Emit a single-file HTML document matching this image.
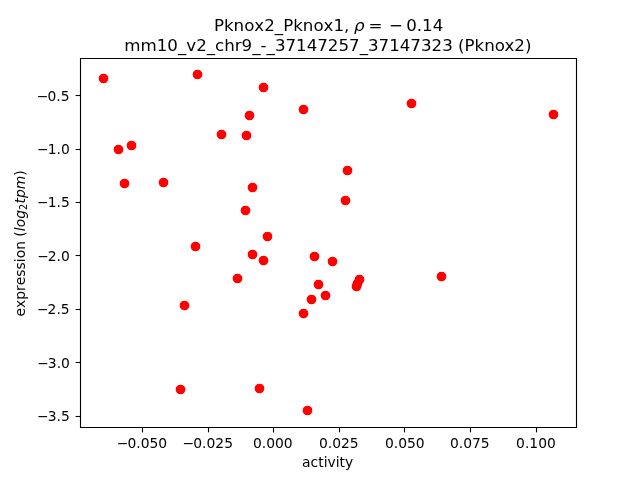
<!DOCTYPE html>
<html><head><meta charset="utf-8"><style>html,body{margin:0;padding:0;background:#fff;width:640px;height:480px;overflow:hidden}svg{display:block}</style></head>
<body>
<svg width="640" height="480" viewBox="0 0 640 480">
<rect width="640" height="480" fill="#fff"/>
<g fill="#f00" stroke="#f00" stroke-width="1.3889"><circle cx="103.50" cy="78.50" r="4.1667"/><circle cx="197.50" cy="74.50" r="4.1667"/><circle cx="221.50" cy="134.50" r="4.1667"/><circle cx="131.50" cy="145.50" r="4.1667"/><circle cx="118.50" cy="149.50" r="4.1667"/><circle cx="263.50" cy="87.50" r="4.1667"/><circle cx="303.50" cy="109.50" r="4.1667"/><circle cx="249.50" cy="115.50" r="4.1667"/><circle cx="246.50" cy="135.50" r="4.1667"/><circle cx="347.50" cy="170.50" r="4.1667"/><circle cx="411.50" cy="103.50" r="4.1667"/><circle cx="553.50" cy="114.50" r="4.1667"/><circle cx="124.50" cy="183.50" r="4.1667"/><circle cx="163.50" cy="182.50" r="4.1667"/><circle cx="195.50" cy="246.50" r="4.1667"/><circle cx="237.50" cy="278.50" r="4.1667"/><circle cx="252.50" cy="187.50" r="4.1667"/><circle cx="345.50" cy="200.50" r="4.1667"/><circle cx="245.50" cy="210.50" r="4.1667"/><circle cx="267.50" cy="236.50" r="4.1667"/><circle cx="252.50" cy="254.50" r="4.1667"/><circle cx="263.50" cy="260.50" r="4.1667"/><circle cx="314.50" cy="256.50" r="4.1667"/><circle cx="332.50" cy="261.50" r="4.1667"/><circle cx="359.50" cy="279.50" r="4.1667"/><circle cx="356.50" cy="286.50" r="4.1667"/><circle cx="318.50" cy="284.50" r="4.1667"/><circle cx="325.50" cy="295.50" r="4.1667"/><circle cx="311.50" cy="299.50" r="4.1667"/><circle cx="303.50" cy="313.50" r="4.1667"/><circle cx="441.50" cy="276.50" r="4.1667"/><circle cx="184.50" cy="305.50" r="4.1667"/><circle cx="180.50" cy="389.50" r="4.1667"/><circle cx="259.50" cy="388.50" r="4.1667"/><circle cx="307.50" cy="410.50" r="4.1667"/><circle cx="357.50" cy="283.50" r="4.1667"/></g>
<g stroke="#000" stroke-width="1.1111" fill="none"><line x1="142.5" y1="427.5" x2="142.5" y2="432.36"/><line x1="208.5" y1="427.5" x2="208.5" y2="432.36"/><line x1="273.5" y1="427.5" x2="273.5" y2="432.36"/><line x1="339.5" y1="427.5" x2="339.5" y2="432.36"/><line x1="404.5" y1="427.5" x2="404.5" y2="432.36"/><line x1="470.5" y1="427.5" x2="470.5" y2="432.36"/><line x1="536.5" y1="427.5" x2="536.5" y2="432.36"/><line x1="75.64" y1="95.5" x2="80.5" y2="95.5"/><line x1="75.64" y1="149.5" x2="80.5" y2="149.5"/><line x1="75.64" y1="202.5" x2="80.5" y2="202.5"/><line x1="75.64" y1="255.5" x2="80.5" y2="255.5"/><line x1="75.64" y1="309.5" x2="80.5" y2="309.5"/><line x1="75.64" y1="362.5" x2="80.5" y2="362.5"/><line x1="75.64" y1="416.5" x2="80.5" y2="416.5"/></g>
<path d="M80.5 427.5 V58.5 M576.5 427.5 V58.5 M80.5 427.5 H576.5 M80.5 58.5 H576.5" stroke="#000" stroke-width="1.1111" stroke-linecap="square" fill="none"/>
<g font-family="'DejaVu Sans', sans-serif" fill="#000" style="filter:grayscale(1)">
<text transform="translate(115.781 448.000)" style="white-space:pre"><tspan x="1.00 11.64 20.47 24.89 33.73 42.56" y="0.000" style="font-size:13.889px">−0.050</tspan></text>
<text transform="translate(181.590 448.000)" style="white-space:pre"><tspan x="1.00 11.64 20.47 24.89 33.73 42.56" y="0.000" style="font-size:13.889px">−0.025</tspan></text>
<text transform="translate(252.949 448.000)" style="white-space:pre"><tspan x="0.00 8.84 13.25 22.09 30.92" y="0.000" style="font-size:13.889px">0.000</tspan></text>
<text transform="translate(318.879 448.000)" style="white-space:pre"><tspan x="0.00 8.84 13.25 22.09 30.92" y="0.000" style="font-size:13.889px">0.025</tspan></text>
<text transform="translate(384.919 448.000)" style="white-space:pre"><tspan x="0.00 8.84 13.25 22.09 30.92" y="0.000" style="font-size:13.889px">0.050</tspan></text>
<text transform="translate(449.949 448.000)" style="white-space:pre"><tspan x="0.00 8.84 13.25 22.09 30.92" y="0.000" style="font-size:13.889px">0.075</tspan></text>
<text transform="translate(516.069 448.000)" style="white-space:pre"><tspan x="0.00 8.84 13.25 22.09 30.92" y="0.000" style="font-size:13.889px">0.100</tspan></text>
<text transform="translate(302.082 467.000)" style="white-space:pre"><tspan x="0.00 8.51 16.15 21.59 25.45 33.67 37.53 42.98" y="0.000" style="font-size:13.889px">activity</tspan></text>
<text transform="translate(36.002 421.000)" style="white-space:pre"><tspan x="1.00 11.64 20.47 24.89" y="0.000" style="font-size:13.889px">−3.5</tspan></text>
<text transform="translate(36.162 368.000)" style="white-space:pre"><tspan x="1.00 11.64 20.47 24.89" y="0.000" style="font-size:13.889px">−3.0</tspan></text>
<text transform="translate(35.972 314.000)" style="white-space:pre"><tspan x="1.00 11.64 20.47 24.89" y="0.000" style="font-size:13.889px">−2.5</tspan></text>
<text transform="translate(36.142 261.000)" style="white-space:pre"><tspan x="1.00 11.64 20.47 24.89" y="0.000" style="font-size:13.889px">−2.0</tspan></text>
<text transform="translate(36.032 207.000)" style="white-space:pre"><tspan x="1.00 11.64 20.47 24.89" y="0.000" style="font-size:13.889px">−1.5</tspan></text>
<text transform="translate(36.102 154.000)" style="white-space:pre"><tspan x="1.00 11.64 20.47 24.89" y="0.000" style="font-size:13.889px">−1.0</tspan></text>
<text transform="translate(35.812 101.000)" style="white-space:pre"><tspan x="1.00 11.64 20.47 24.89" y="0.000" style="font-size:13.889px">−0.5</tspan></text>
<text transform="translate(25.089 316.525) rotate(-90)" style="white-space:pre"><tspan x="0.00 8.54 16.76 25.58 31.29 39.84 47.07 54.31 58.17 66.66 75.47 79.88" y="-0.002" style="font-size:13.889px">expression (</tspan><tspan x="85.30 89.16 97.66" y="-0.002" style="font-size:13.889px;font-style:oblique">log</tspan><tspan x="106.47" y="2.276" style="font-size:9.722px">2</tspan><tspan x="113.04 118.48 127.30" y="-0.002" style="font-size:13.889px;font-style:oblique">tpm</tspan><tspan x="140.83" y="-0.002" style="font-size:13.889px">)</tspan></text>
<text style="white-space:pre"><tspan x="213.90 223.95 233.60 244.17 254.36 264.23 274.83 283.16 293.21 302.86 313.43 323.62 333.49 344.09 349.39" y="31" style="font-size:16.667px">Pknox2_Pknox1, </tspan><tspan x="354.08" y="31" style="font-size:16.667px;font-style:oblique">ρ</tspan><tspan x="365.27 368.51 382.48 388.97 406.19 416.79 422.09 432.69" y="31" style="font-size:16.667px"> = −0.14</tspan></text>
<text x="124.310" y="51" style="font-size:16.667px">mm10_v2_chr9_-_37147257_37147323 (Pknox2)</text>
</g>
</svg>
</body></html>
